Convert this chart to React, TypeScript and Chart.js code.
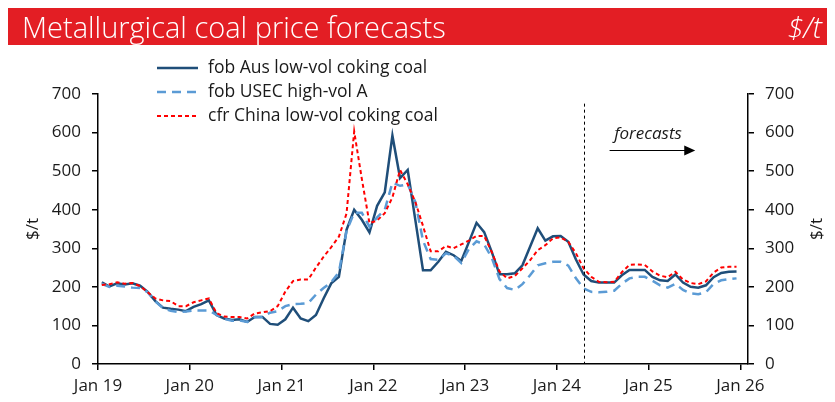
import React, { useEffect, useRef } from 'react';
import { Chart, registerables } from 'chart.js';

Chart.register(...registerables);

// ---------- data ----------
const xTickLabels = ['Jan 19', 'Jan 20', 'Jan 21', 'Jan 22', 'Jan 23', 'Jan 24', 'Jan 25', 'Jan 26'];
const yTickMin = 0;
const yTickMax = 700;
const yTickStep = 100;

const seriesNames = ['fob Aus low-vol coking coal', 'fob USEC high-vol A', 'cfr China low-vol coking coal'];

// monthly values, Jan 2019 .. Dec 2025
const ausLowVol = [
  212, 201, 209, 206, 209, 203, 187, 163, 146, 143, 141, 137,
  148, 155, 165, 127, 118, 114, 116, 109, 122, 122, 104, 102,
  116, 146, 118, 111, 127, 170, 209, 226, 348, 400, 374, 341,
  410, 445, 592, 482, 503, 373, 243, 243, 265, 291, 282, 267,
  316, 366, 342, 290, 233, 233, 235, 256, 304, 352, 320, 331,
  332, 317, 271, 232, 215, 211, 211, 211, 230, 244, 244, 244,
  226, 217, 215, 232, 211, 200, 198, 204, 225, 236, 239, 240,
];

const usecHighVol = [
  208, 200, 203, 201, 198, 197, 186, 162, 145, 138, 135, 136,
  139, 139, 139, 127, 117, 112, 113, 109, 121, 122, 133, 137,
  150, 155, 156, 158, 180, 197, 212, 238, 345, 392, 392, 356,
  380, 400, 470, 462, 466, 420, 320, 272, 270, 287, 281, 262,
  298, 318, 310, 275, 220, 197, 192, 207, 230, 256, 261, 265,
  265, 255, 222, 196, 187, 186, 187, 190, 208, 222, 226, 226,
  216, 204, 198, 208, 192, 183, 181, 186, 208, 217, 220, 222,
];

const chinaLowVol = [
  205, 207, 212, 208, 210, 202, 186, 170, 165, 163, 150, 150,
  160, 165, 170, 132, 123, 122, 122, 118, 131, 134, 137, 150,
  188, 215, 219, 219, 250, 278, 303, 330, 390, 603, 480, 365,
  372, 391, 432, 503, 466, 420, 358, 292, 292, 306, 300, 310,
  320, 332, 332, 290, 240, 222, 228, 248, 269, 295, 308, 326,
  328, 317, 287, 248, 226, 213, 212, 213, 238, 257, 258, 257,
  240, 229, 225, 239, 219, 210, 207, 214, 237, 250, 252, 252,
];

// annotation (x in months since Jan 19, y in $/t)
const forecastStart = 63.6;
const forecastLineTop = 675;
const forecastText = 'forecasts';
const forecastTextPos = { x: 67.5, y: 597 };
const forecastArrow = { x0: 66.9, x1: 78.1, y: 555 };

const titleText = 'Metallurgical coal price forecasts';
const unitText = '$/t';

// ---------- styles ----------
const FONT = '"Open Sans", "Noto Sans", sans-serif';
const TEXT_COLOR = '#1a1a1a';
const COLORS = ['#1F4E79', '#5B9BD5', '#FF0000'];
const DASHES: number[][] = [[], [9, 6], [4, 3]];
const WIDTHS = [2.5, 2.5, 2];

const toPoints = (arr: number[]) => arr.map((v, i) => ({ x: i + 0.5, y: v }));

const overlayPlugin = {
  id: 'overlay',
  afterDatasetsDraw(chart: any) {
    const { ctx, chartArea, scales } = chart;
    const x = scales.x;
    const y = scales.y;
    ctx.save();
    // forecast divider
    const fx = Math.round(x.getPixelForValue(forecastStart)) + 0.5;
    ctx.strokeStyle = '#000';
    ctx.lineWidth = 1;
    ctx.setLineDash([3, 3]);
    ctx.beginPath();
    ctx.moveTo(fx, y.getPixelForValue(forecastLineTop));
    ctx.lineTo(fx, chartArea.bottom);
    ctx.stroke();
    ctx.setLineDash([]);

    // forecasts label
    ctx.fillStyle = TEXT_COLOR;
    ctx.font = `italic 17px ${FONT}`;
    ctx.textAlign = 'left';
    ctx.textBaseline = 'middle';
    ctx.fillText(forecastText, x.getPixelForValue(forecastTextPos.x), y.getPixelForValue(forecastTextPos.y));

    // arrow
    const ay = Math.round(y.getPixelForValue(forecastArrow.y)) + 0.5;
    const ax0 = x.getPixelForValue(forecastArrow.x0);
    const ax1 = x.getPixelForValue(forecastArrow.x1);
    ctx.strokeStyle = '#000';
    ctx.fillStyle = '#000';
    ctx.lineWidth = 1.2;
    ctx.beginPath();
    ctx.moveTo(ax0, ay);
    ctx.lineTo(ax1 - 8, ay);
    ctx.stroke();
    ctx.beginPath();
    ctx.moveTo(ax1, ay);
    ctx.lineTo(ax1 - 11, ay - 5);
    ctx.lineTo(ax1 - 11, ay + 5);
    ctx.closePath();
    ctx.fill();

    // axis titles
    const midY = (chartArea.top + chartArea.bottom) / 2;
    ctx.fillStyle = TEXT_COLOR;
    ctx.font = `17px ${FONT}`;
    ctx.textAlign = 'center';
    ctx.textBaseline = 'middle';
    [33, 817].forEach((tx) => {
      ctx.save();
      ctx.translate(tx, midY);
      ctx.rotate(-Math.PI / 2);
      ctx.fillText(unitText, 0, 0);
      ctx.restore();
    });

    // legend
    const rows = [68, 92, 116];
    seriesNames.forEach((name, i) => {
      const ry = rows[i];
      ctx.strokeStyle = COLORS[i];
      ctx.lineWidth = WIDTHS[i];
      ctx.setLineDash(DASHES[i]);
      ctx.beginPath();
      ctx.moveTo(157, ry);
      ctx.lineTo(198, ry);
      ctx.stroke();
      ctx.setLineDash([]);
      ctx.fillStyle = TEXT_COLOR;
      ctx.font = `17.5px ${FONT}`;
      ctx.textAlign = 'left';
      ctx.textBaseline = 'middle';
      ctx.fillText(name, 208, ry);
    });
    ctx.restore();
  },
};

export default function App() {
  const canvasRef = useRef<HTMLCanvasElement | null>(null);

  useEffect(() => {
    document.body.style.margin = '0';
    const canvas = canvasRef.current;
    if (!canvas) return;
    const seriesData = [ausLowVol, usecHighVol, chinaLowVol];
    const axisCommon = {
      min: yTickMin,
      max: yTickMax,
      border: { display: true, color: '#000', width: 1.5 },
      grid: { drawOnChartArea: false, tickLength: 6, color: '#000', lineWidth: 1.5 },
      ticks: {
        stepSize: yTickStep,
        padding: 11,
        color: TEXT_COLOR,
        font: { family: FONT, size: 17 },
      },
    };
    const chart = new Chart(canvas, {
      type: 'line',
      data: {
        datasets: seriesData.map((arr, i) => ({
          label: seriesNames[i],
          data: toPoints(arr),
          borderColor: COLORS[i],
          backgroundColor: COLORS[i],
          borderWidth: WIDTHS[i],
          borderDash: DASHES[i],
          pointRadius: 0,
          tension: 0,
          fill: false,
          order: 2 - i,
        })),
      },
      options: {
        animation: false,
        responsive: false,
        maintainAspectRatio: false,
        layout: { padding: { top: 94, left: 0, right: 0, bottom: 0 } },
        plugins: { legend: { display: false }, tooltip: { enabled: false } },
        scales: {
          x: {
            type: 'linear',
            min: 0,
            max: 85,
            border: { display: true, color: '#000', width: 1.5 },
            grid: { drawOnChartArea: false, tickLength: 6, color: '#000', lineWidth: 1.5 },
            afterBuildTicks: (scale: any) => {
              scale.ticks = xTickLabels.map((_, i) => ({ value: i * 12 }));
            },
            afterFit: (scale: any) => {
              scale.height = 38;
            },
            ticks: {
              autoSkip: false,
              maxRotation: 0,
              padding: 6,
              color: TEXT_COLOR,
              font: { family: FONT, size: 17 },
              callback: (v: any) => xTickLabels[Math.round(Number(v) / 12)],
            },
          },
          y: {
            ...axisCommon,
            position: 'left',
            afterFit: (scale: any) => {
              scale.width = 98;
            },
          },
          y1: {
            ...axisCommon,
            position: 'right',
            afterFit: (scale: any) => {
              scale.width = 87;
            },
          },
        },
      } as any,
      plugins: [overlayPlugin],
    });
    return () => chart.destroy();
  }, []);

  return (
    <div style={{ position: 'absolute', left: 0, top: 0, width: 835, height: 402, background: '#fff' }}>
      <canvas ref={canvasRef} width={835} height={402} style={{ position: 'absolute', left: 0, top: 0, width: 835, height: 402 }} />
      <div
        style={{
          position: 'absolute',
          left: 8,
          top: 8,
          width: 819,
          height: 37,
          background: '#E31E24',
          color: '#fff',
          fontFamily: FONT,
          fontWeight: 300,
          fontSize: 29,
          lineHeight: '37px',
          boxSizing: 'border-box',
          paddingLeft: 14,
          paddingRight: 5,
          display: 'flex',
          justifyContent: 'space-between',
          whiteSpace: 'nowrap',
        }}
      >
        <span>{titleText}</span>
        <span style={{ fontStyle: 'italic' }}>{unitText}</span>
      </div>
    </div>
  );
}
